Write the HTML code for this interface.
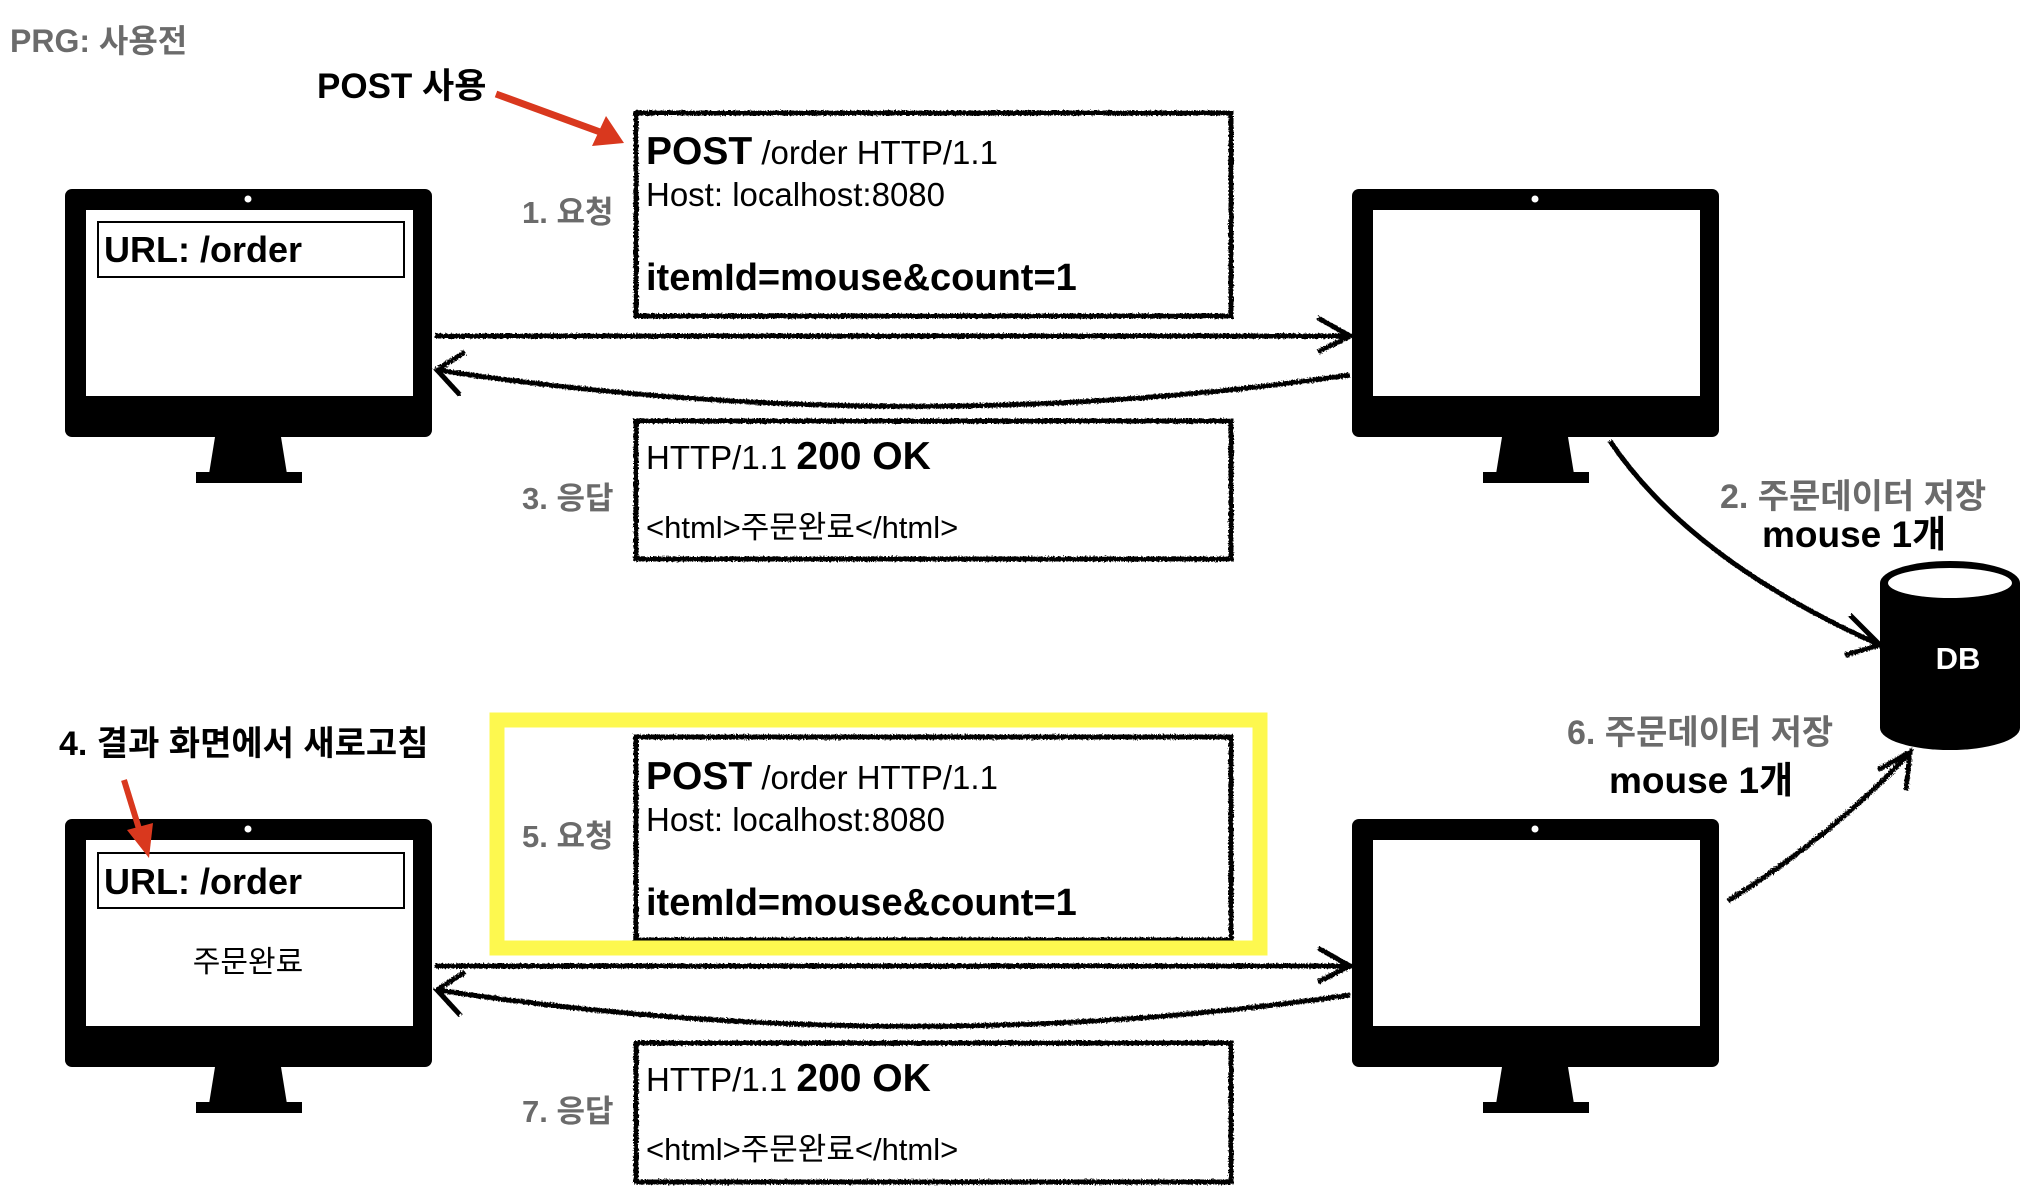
<!DOCTYPE html>
<html><head><meta charset="utf-8"><style>
html,body{margin:0;padding:0;background:#fff;}
svg{display:block;}
text{font-family:"Liberation Sans","Noto Sans CJK KR",sans-serif;}
.g{fill:#6b6b6b;font-weight:bold;}
.b{font-weight:bold;}
</style></head><body>
<svg width="2038" height="1188" viewBox="0 0 2038 1188" xmlns="http://www.w3.org/2000/svg">
<defs>
<filter id="r" x="-5%" y="-5%" width="110%" height="110%">
<feTurbulence type="fractalNoise" baseFrequency="0.6" numOctaves="2" result="n"/>
<feDisplacementMap in="SourceGraphic" in2="n" scale="4"/>
</filter>
<g id="mon">
<rect x="0" y="0" width="367" height="248" rx="7" fill="#000"/>
<rect x="21" y="21" width="327" height="186" fill="#fff"/>
<circle cx="183" cy="10" r="3.5" fill="#fff"/>
<polygon points="150,248 216,248 222,285 144,285" fill="#000"/>
<rect x="131" y="283" width="106" height="11" fill="#000"/>
</g>
</defs>

<text x="10" y="52" class="g" font-size="32">PRG: 사용전</text>
<text x="317" y="98" class="b" font-size="35">POST 사용</text>
<line x1="496" y1="94" x2="600" y2="132" stroke="#d9381e" stroke-width="7"/>
<polygon points="624,143 592,146 606,116" fill="#d9381e"/>

<use href="#mon" x="65" y="189"/>
<rect x="98" y="222" width="306" height="55" fill="none" stroke="#000" stroke-width="2"/>
<text x="104" y="262" class="b" font-size="36">URL: /order</text>
<use href="#mon" x="1352" y="189"/>

<g filter="url(#r)" fill="none" stroke="#000" stroke-width="5">
<rect x="636" y="113" width="595" height="203"/>
<rect x="636" y="421" width="595" height="138"/>
<rect x="636" y="737" width="595" height="203"/>
<rect x="636" y="1043" width="595" height="139"/>
<path d="M435,336 L1350,336"/>
<path d="M1318,318 L1350,336 L1318,352"/>
<path d="M1350,375 Q900,440 437,370"/>
<path d="M465,352 L437,370 L460,395"/>
<path d="M1610,441 Q1690,560 1880,645"/>
<path d="M1850,615 L1880,645 L1845,655"/>
<path d="M435,966 L1350,966"/>
<path d="M1318,948 L1350,966 L1318,982"/>
<path d="M1350,995 Q900,1060 437,990"/>
<path d="M465,972 L437,990 L460,1015"/>
<path d="M1728,901 Q1840,830 1910,752"/>
<path d="M1878,770 L1910,752 L1906,790"/>
</g>

<text x="522" y="223" class="g" font-size="31">1. 요청</text>
<text x="646" y="164"><tspan class="b" font-size="39">POST</tspan><tspan font-size="33"> /order HTTP/1.1</tspan></text>
<text x="646" y="206" font-size="33">Host: localhost:8080</text>
<text x="646" y="290" class="b" font-size="38">itemId=mouse&amp;count=1</text>

<text x="522" y="509" class="g" font-size="31">3. 응답</text>
<text x="646" y="469"><tspan font-size="33">HTTP/1.1 </tspan><tspan class="b" font-size="39">200 OK</tspan></text>
<text x="646" y="538" font-size="31">&lt;html&gt;주문완료&lt;/html&gt;</text>

<text x="1720" y="508" class="g" font-size="34">2. 주문데이터 저장</text>
<text x="1762" y="547" class="b" font-size="37">mouse 1개</text>

<path d="M1880,583 L1880,728 A70,22 0 0 0 2020,728 L2020,583 Z" fill="#000"/>
<ellipse cx="1950" cy="583" rx="70" ry="22" fill="#000"/>
<ellipse cx="1950" cy="583" rx="62" ry="15" fill="#fff"/>
<path d="M1880,590 A70,22 0 0 0 2020,590 L2020,598 A70,22 0 0 1 1880,598 Z" fill="#000"/>
<text x="1958" y="669" class="b" font-size="31" fill="#fff" text-anchor="middle">DB</text>

<!-- bottom -->
<rect x="497" y="720" width="763" height="228" fill="none" stroke="#fdf84f" stroke-width="15"/>
<text x="59" y="755" class="b" font-size="34">4. 결과 화면에서 새로고침</text>

<use href="#mon" x="65" y="819"/>
<rect x="98" y="853" width="306" height="55" fill="none" stroke="#000" stroke-width="2"/>
<text x="104" y="894" class="b" font-size="36">URL: /order</text>
<text x="248" y="972" font-size="30" text-anchor="middle">주문완료</text>
<use href="#mon" x="1352" y="819"/>

<line x1="124" y1="780" x2="140" y2="832" stroke="#d9381e" stroke-width="6"/>
<polygon points="149,858 127,830 153,823" fill="#d9381e"/>

<text x="522" y="847" class="g" font-size="31">5. 요청</text>
<text x="646" y="789"><tspan class="b" font-size="39">POST</tspan><tspan font-size="33"> /order HTTP/1.1</tspan></text>
<text x="646" y="831" font-size="33">Host: localhost:8080</text>
<text x="646" y="915" class="b" font-size="38">itemId=mouse&amp;count=1</text>

<text x="522" y="1122" class="g" font-size="31">7. 응답</text>
<text x="646" y="1091"><tspan font-size="33">HTTP/1.1 </tspan><tspan class="b" font-size="39">200 OK</tspan></text>
<text x="646" y="1160" font-size="31">&lt;html&gt;주문완료&lt;/html&gt;</text>

<text x="1567" y="744" class="g" font-size="34">6. 주문데이터 저장</text>
<text x="1609" y="793" class="b" font-size="37">mouse 1개</text>
</svg>
</body></html>
